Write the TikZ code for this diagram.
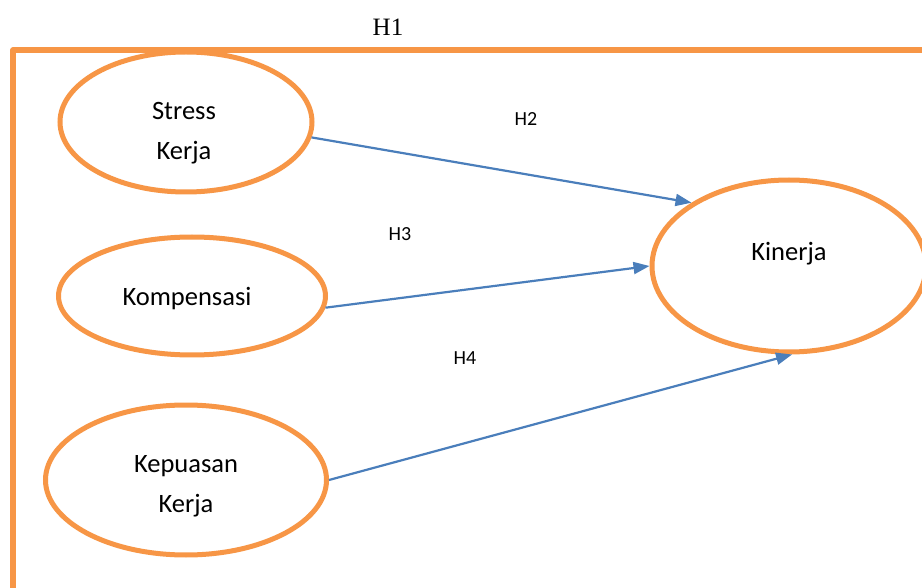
\documentclass[tikz,border=0pt]{standalone}
\usepackage{fontspec}
\setmainfont{Carlito}
\newfontfamily\serifH{Liberation Serif}
\usetikzlibrary{shapes.geometric,arrows.meta}
\definecolor{frameorange}{HTML}{F79646}
\definecolor{arrowblue}{HTML}{4A7EBB}
\begin{document}
\begin{tikzpicture}[x=1pt,y=-1pt,
  oval/.style={draw=frameorange,line width=5pt,ellipse,inner sep=0pt,fill=white},
  lbl/.style={font=\fontsize{26.5}{40}\selectfont,align=center,inner sep=0pt},
  hyp/.style={font=\fontsize{20}{24}\selectfont,inner sep=0pt},
  conn/.style={draw=arrowblue,line width=2.2pt,-{Triangle[length=16pt,width=12pt]}}]
\useasboundingbox (0,0) rectangle (922,588);
% frame
\draw[frameorange,line width=5.5pt,line join=round] (13,600) -- (13,50) -- (940,50);
\node[font=\serifH\fontsize{25}{30}\selectfont,inner sep=0pt] (h1) at (388,27) {H1};
% ellipses
\node[oval,minimum width=252pt,minimum height=140pt] (stress) at (186,122) {};
\node[oval,minimum width=267pt,minimum height=118pt] (komp) at (192,296) {};
\node[oval,minimum width=281pt,minimum height=150pt] (kepuasan) at (186,480) {};
\node[oval,minimum width=274pt,minimum height=172pt] (kinerja) at (789,266) {};
% texts
\node[lbl] (tstress) at (184,133) {Stress\\Kerja};
\node[lbl] (tkomp) at (187,299) {Kompensasi};
\node[lbl] (tkep) at (186,486) {Kepuasan\\Kerja};
\node[lbl] (tkin) at (789,254) {Kinerja};
% hypothesis labels
\node[hyp] (h2) at (526,119) {H2};
\node[hyp] (h3) at (400,234) {H3};
\node[hyp] (h4) at (465,358) {H4};
% connectors
\draw[conn] (stress.-7) -- (kinerja.147);
\draw[conn] (komp.-5) -- (kinerja.west);
\draw[conn] (kepuasan.east) -- (kinerja.-88);
\end{tikzpicture}
\end{document}
